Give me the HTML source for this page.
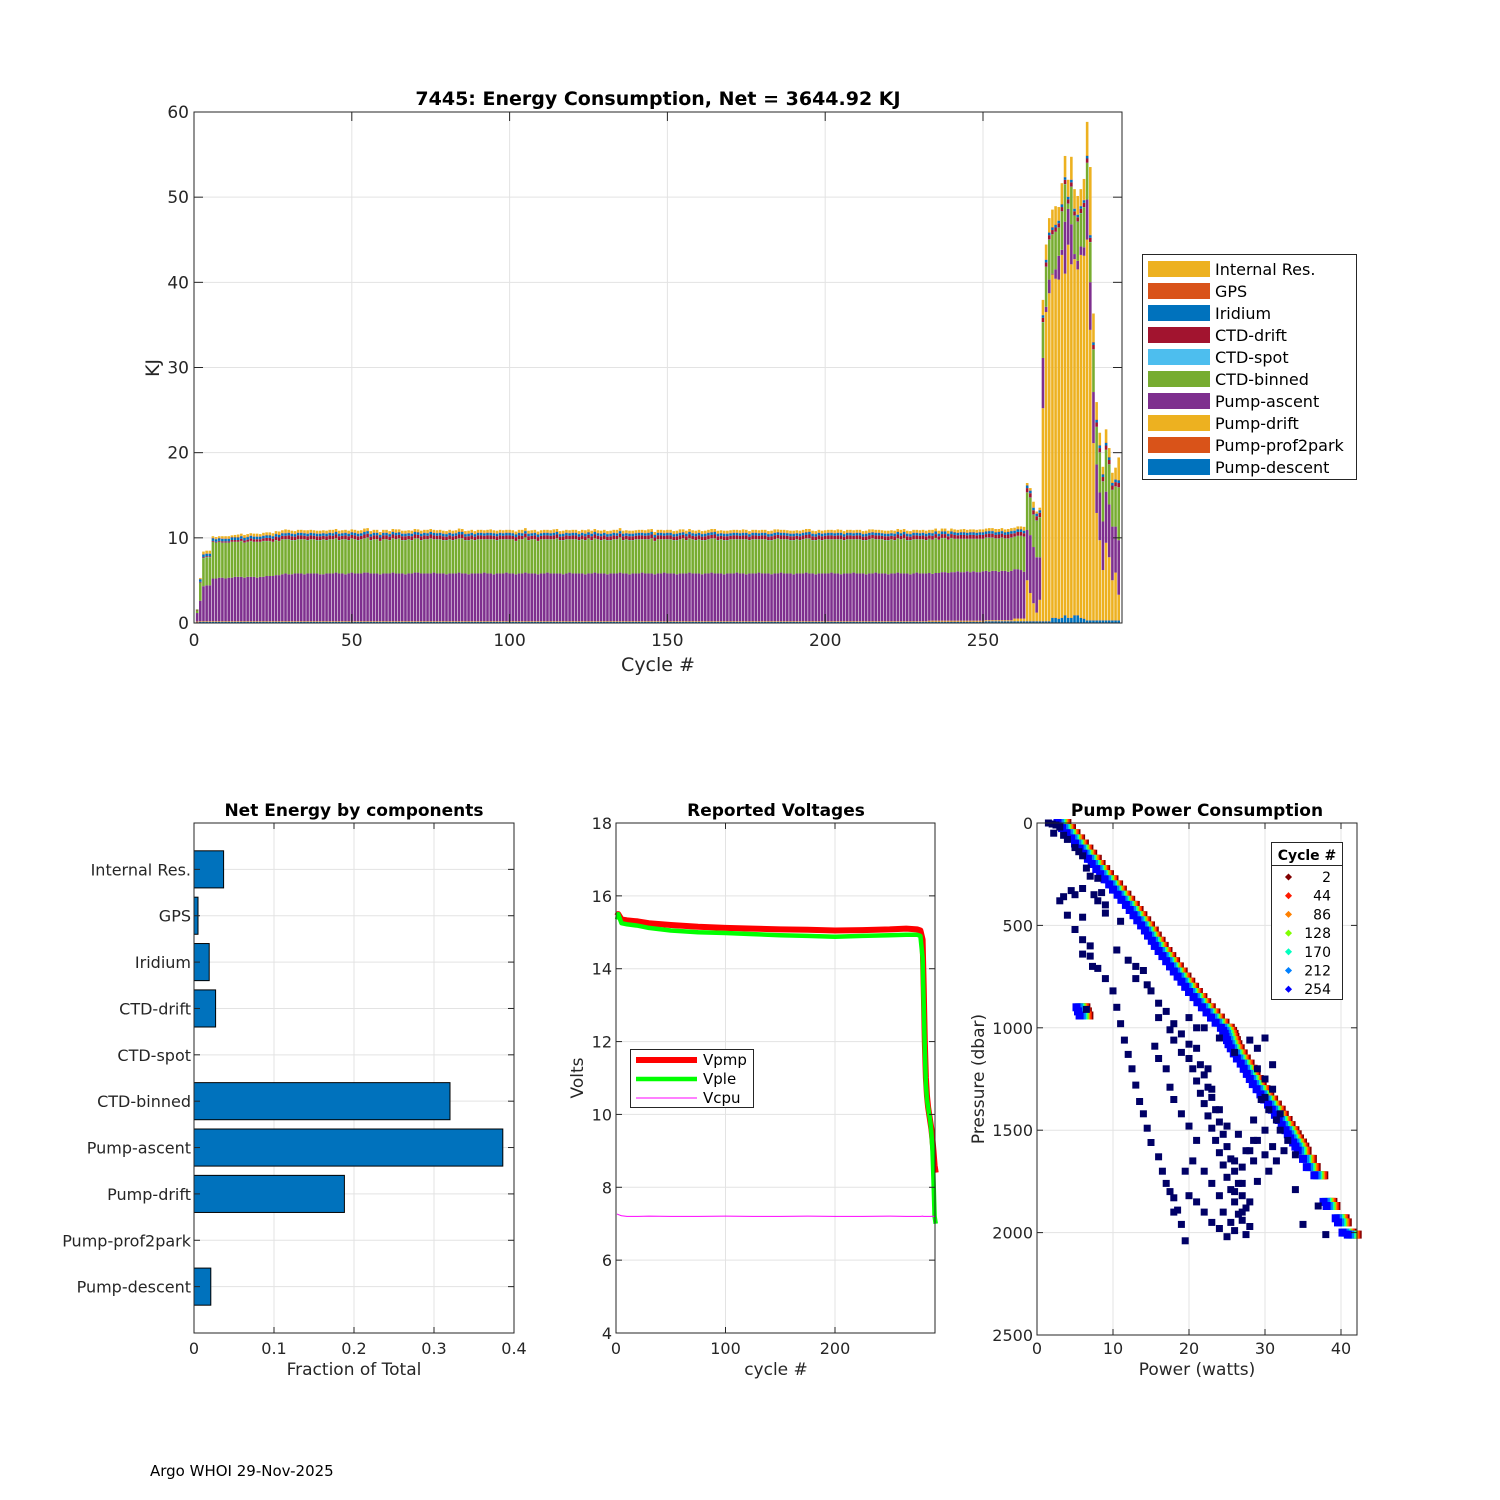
<!DOCTYPE html>
<html><head><meta charset="utf-8"><title>7445 Energy Consumption</title>
<style>
html,body{margin:0;padding:0;background:#fff;}
svg{display:block;font-family:"DejaVu Sans","Liberation Sans",sans-serif;}
</style></head>
<body>
<svg id="chart" width="1500" height="1500" viewBox="0 0 1500 1500" xmlns="http://www.w3.org/2000/svg">
<rect x="0" y="0" width="1500" height="1500" fill="#ffffff"/>
<text x="150" y="1476" font-size="15" fill="#000">Argo WHOI 29-Nov-2025</text>
</svg>
<script>
// ---------- top chart data (per-cycle KJ, cycles 1..293) ----------
const cycleCount = 293;
const pumpDescent = [0.1,0.15,0.15,0.15,0.15,0.15,0.15,0.15,0.15,0.15,
0.15,0.15,0.15,0.15,0.15,0.15,0.15,0.15,0.15,0.15,0.15,0.15,0.15,0.15,0.15,0.15,0.15,0.15,0.15,0.15,
0.15,0.15,0.15,0.15,0.15,0.15,0.15,0.15,0.15,0.15,0.15,0.15,0.15,0.15,0.15,0.15,0.15,0.15,0.15,0.15,
0.15,0.15,0.15,0.15,0.15,0.15,0.15,0.15,0.15,0.15,0.15,0.15,0.15,0.15,0.15,0.15,0.15,0.15,0.15,0.15,
0.15,0.15,0.15,0.15,0.15,0.15,0.15,0.15,0.15,0.15,0.15,0.15,0.15,0.15,0.15,0.15,0.15,0.15,0.15,0.15,
0.15,0.15,0.15,0.15,0.15,0.15,0.15,0.15,0.15,0.15,0.15,0.15,0.15,0.15,0.15,0.15,0.15,0.15,0.15,0.15,
0.15,0.15,0.15,0.15,0.15,0.15,0.15,0.15,0.15,0.15,0.15,0.15,0.15,0.15,0.15,0.15,0.15,0.15,0.15,0.15,
0.15,0.15,0.15,0.15,0.15,0.15,0.15,0.15,0.15,0.15,0.15,0.15,0.15,0.15,0.15,0.15,0.15,0.15,0.15,0.15,
0.15,0.15,0.15,0.15,0.15,0.15,0.15,0.15,0.15,0.15,0.15,0.15,0.15,0.15,0.15,0.15,0.15,0.15,0.15,0.15,
0.15,0.15,0.15,0.15,0.15,0.15,0.15,0.15,0.15,0.15,0.15,0.15,0.15,0.15,0.15,0.15,0.15,0.15,0.15,0.15,
0.15,0.15,0.15,0.15,0.15,0.15,0.15,0.15,0.15,0.15,0.15,0.15,0.15,0.15,0.15,0.15,0.15,0.15,0.15,0.15,
0.15,0.15,0.15,0.15,0.15,0.15,0.15,0.15,0.15,0.15,0.15,0.15,0.15,0.15,0.15,0.15,0.15,0.15,0.15,0.15,
0.15,0.15,0.15,0.15,0.15,0.15,0.15,0.15,0.15,0.15,0.15,0.15,0.15,0.15,0.15,0.15,0.15,0.15,0.15,0.15,
0.2,0.2,0.2,0.2,0.2,0.2,0.2,0.2,0.2,0.2,0.2,0.2,0.2,
0.2,0.2,0.2,0.2,0.2,0.2,0.2,0.2,0.6,0.6,0.5,0.6,0.9,0.6,0.6,0.9,0.9,0.6,0.5,
0.3,0.3,0.3,0.3,0.3,0.3,0.3,0.3,0.3,0.3,0.3];
const pumpProf2park = [0.02,0.02,0.02,0.02,0.02,0.02,0.02,0.02,0.02,0.02,
0.02,0.02,0.02,0.02,0.02,0.02,0.02,0.02,0.02,0.02,0.02,0.02,0.02,0.02,0.02,0.02,0.02,0.02,0.02,0.02,
0.02,0.02,0.02,0.02,0.02,0.02,0.02,0.02,0.02,0.02,0.02,0.02,0.02,0.02,0.02,0.02,0.02,0.02,0.02,0.02,
0.02,0.02,0.02,0.02,0.02,0.02,0.02,0.02,0.02,0.02,0.02,0.02,0.02,0.02,0.02,0.02,0.02,0.02,0.02,0.02,
0.02,0.02,0.02,0.02,0.02,0.02,0.02,0.02,0.02,0.02,0.02,0.02,0.02,0.02,0.02,0.02,0.02,0.02,0.02,0.02,
0.02,0.02,0.02,0.02,0.02,0.02,0.02,0.02,0.02,0.02,0.02,0.02,0.02,0.02,0.02,0.02,0.02,0.02,0.02,0.02,
0.02,0.02,0.02,0.02,0.02,0.02,0.02,0.02,0.02,0.02,0.02,0.02,0.02,0.02,0.02,0.02,0.02,0.02,0.02,0.02,
0.02,0.02,0.02,0.02,0.02,0.02,0.02,0.02,0.02,0.02,0.02,0.02,0.02,0.02,0.02,0.02,0.02,0.02,0.02,0.02,
0.02,0.02,0.02,0.02,0.02,0.02,0.02,0.02,0.02,0.02,0.02,0.02,0.02,0.02,0.02,0.02,0.02,0.02,0.02,0.02,
0.02,0.02,0.02,0.02,0.02,0.02,0.02,0.02,0.02,0.02,0.02,0.02,0.02,0.02,0.02,0.02,0.02,0.02,0.02,0.02,
0.02,0.02,0.02,0.02,0.02,0.02,0.02,0.02,0.02,0.02,0.02,0.02,0.02,0.02,0.02,0.02,0.02,0.02,0.02,0.02,
0.02,0.02,0.02,0.02,0.02,0.02,0.02,0.02,0.02,0.02,0.02,0.02,0.02,0.02,0.02,0.02,0.02,0.02,0.02,0.02,
0.02,0.02,0.02,0.02,0.02,0.02,0.02,0.02,0.02,0.02,0.02,0.02,0.02,0.02,0.02,0.02,0.02,0.02,0.02,0.02,
0.02,0.02,0.02,0.02,0.02,0.02,0.02,0.02,0.02,0.02,0.02,0.02,0.02,
0.02,0.02,0.02,0.02,0.02,0.02,0.02,0.02,0.02,0.02,0.02,0.02,0.02,0.02,0.02,0.02,0.02,0.02,0.02,0.02,
0.02,0.02,0.02,0.02,0.02,0.02,0.02,0.02,0.02,0.02];
const pumpDrift = [0.05,0.05,0.05,0.05,0.05,0.05,0.05,0.05,0.05,0.05,
0.05,0.05,0.05,0.05,0.05,0.05,0.05,0.05,0.05,0.05,0.05,0.05,0.05,0.05,0.05,0.05,0.05,0.05,0.05,0.05,
0.05,0.05,0.05,0.05,0.05,0.05,0.05,0.05,0.05,0.05,0.05,0.05,0.05,0.05,0.05,0.05,0.05,0.05,0.05,0.05,
0.05,0.05,0.05,0.05,0.05,0.05,0.05,0.05,0.05,0.05,0.05,0.05,0.05,0.05,0.05,0.05,0.05,0.05,0.05,0.05,
0.05,0.05,0.05,0.05,0.05,0.05,0.05,0.05,0.05,0.05,0.05,0.05,0.05,0.05,0.05,0.05,0.05,0.05,0.05,0.05,
0.05,0.05,0.05,0.05,0.05,0.05,0.05,0.05,0.05,0.05,0.05,0.05,0.05,0.05,0.05,0.05,0.05,0.05,0.05,0.05,
0.05,0.05,0.05,0.05,0.05,0.05,0.05,0.05,0.05,0.05,0.05,0.05,0.05,0.05,0.05,0.05,0.05,0.05,0.05,0.05,
0.05,0.05,0.05,0.05,0.05,0.05,0.05,0.05,0.05,0.05,0.05,0.05,0.05,0.05,0.05,0.05,0.05,0.05,0.05,0.05,
0.05,0.05,0.05,0.05,0.05,0.05,0.05,0.05,0.05,0.05,0.05,0.05,0.05,0.05,0.05,0.05,0.05,0.05,0.05,0.05,
0.05,0.05,0.05,0.05,0.05,0.05,0.05,0.05,0.05,0.05,0.05,0.05,0.05,0.05,0.05,0.05,0.05,0.05,0.05,0.05,
0.05,0.05,0.05,0.05,0.05,0.05,0.05,0.05,0.05,0.05,0.05,0.05,0.05,0.05,0.05,0.05,0.05,0.05,0.05,0.05,
0.05,0.05,0.05,0.05,0.05,0.05,0.05,0.05,0.05,0.05,0.05,0.05,0.05,0.05,0.05,0.05,0.05,0.05,0.05,0.05,
0.05,0.05,0.1,0.1,0.1,0.1,0.1,0.1,0.1,0.1,0.1,0.1,0.1,0.1,0.1,0.1,0.1,0.1,0.1,0.1,
0.1,0.1,0.1,0.1,0.1,0.1,0.1,0.1,0.1,0.3,0.3,0.3,0.3,
4.8,3.3,2.1,1.0,2.5,25.0,36.3,38.5,40.3,39.8,39.8,42.6,40.1,43.8,41.5,41.8,40.6,42.6,42.6,44.7,
34.1,20.8,12.6,9.4,5.9,9.1,7.4,4.7,5.6,3.0];
const pumpAscent = [1.0,2.4,4.1,4.2,4.2,5.0,5.0,5.1,5.1,5.0,
5.1,5.1,5.2,5.2,5.2,5.1,5.2,5.2,5.2,5.1,5.2,5.2,5.3,5.3,5.3,5.4,5.4,5.5,5.6,5.5,
5.5,5.6,5.6,5.6,5.5,5.6,5.6,5.6,5.6,5.5,5.5,5.6,5.6,5.6,5.7,5.6,5.6,5.5,5.6,5.7,
5.6,5.6,5.6,5.7,5.7,5.6,5.6,5.6,5.5,5.6,5.6,5.6,5.7,5.6,5.6,5.6,5.5,5.6,5.6,5.7,
5.7,5.6,5.6,5.6,5.6,5.7,5.6,5.6,5.6,5.5,5.6,5.6,5.6,5.7,5.6,5.6,5.5,5.6,5.6,5.6,
5.6,5.7,5.6,5.6,5.5,5.6,5.6,5.6,5.7,5.6,5.6,5.5,5.6,5.6,5.7,5.6,5.6,5.6,5.5,5.6,
5.6,5.7,5.6,5.6,5.6,5.6,5.5,5.6,5.7,5.6,5.6,5.6,5.6,5.5,5.6,5.6,5.7,5.6,5.6,5.6,
5.5,5.6,5.6,5.6,5.7,5.6,5.6,5.5,5.6,5.6,5.6,5.7,5.6,5.6,5.6,5.5,5.6,5.6,5.7,5.6,
5.6,5.6,5.5,5.6,5.6,5.6,5.7,5.6,5.6,5.6,5.5,5.6,5.6,5.7,5.6,5.6,5.6,5.5,5.6,5.6,
5.6,5.7,5.6,5.6,5.5,5.6,5.6,5.6,5.7,5.6,5.6,5.6,5.5,5.6,5.6,5.7,5.6,5.6,5.6,5.5,
5.6,5.6,5.6,5.7,5.6,5.6,5.5,5.6,5.6,5.6,5.6,5.7,5.6,5.6,5.5,5.6,5.6,5.6,5.7,5.6,
5.6,5.6,5.5,5.6,5.6,5.7,5.6,5.6,5.6,5.5,5.6,5.6,5.7,5.6,5.6,5.6,5.5,5.6,5.7,5.6,
5.6,5.6,5.6,5.5,5.6,5.6,5.7,5.7,5.6,5.7,5.7,5.8,5.7,5.7,5.8,5.7,5.8,5.7,5.7,5.8,
5.8,5.7,5.8,5.8,5.7,5.8,5.8,5.7,5.8,5.8,5.8,5.7,5.5,
5.9,6.8,6.6,6.5,5.0,5.9,0.6,1.6,0.1,1.1,2.8,0.6,6.1,4.2,4.7,0.6,1.0,1.0,1.0,4.7,
5.6,6.0,5.7,5.6,5.7,6.0,6.2,6.3,5.4,6.4];
const ctdBinned = [0.3,2.1,3.3,3.3,3.3,4.3,4.2,4.2,4.1,4.2,
4.1,4.2,4.1,4.1,4.2,4.1,4.1,4.2,4.1,4.2,4.1,4.2,4.1,4.1,4.0,4.1,4.0,4.1,4.0,4.1,
4.0,3.9,4.0,4.0,4.1,3.9,4.0,4.0,3.9,4.0,4.1,3.9,4.0,4.0,4.0,3.9,4.0,4.1,3.9,4.0,
4.0,3.9,4.0,4.0,4.1,3.9,4.0,4.0,3.9,4.0,4.0,3.9,4.0,4.0,4.1,3.9,4.0,4.0,3.9,4.0,
4.0,3.9,4.0,4.0,4.1,3.9,4.0,4.0,3.9,4.0,4.0,3.9,4.0,4.0,4.1,3.9,4.0,4.0,3.9,4.0,
4.0,3.9,4.0,4.0,4.1,3.9,4.0,4.0,3.9,4.0,4.0,3.9,4.0,4.0,4.1,3.9,4.0,4.0,3.9,4.0,
4.0,3.9,4.0,4.0,4.1,3.9,4.0,4.0,3.9,4.0,4.0,3.9,4.0,4.0,4.1,3.9,4.0,4.0,3.9,4.0,
4.0,3.9,4.0,4.0,4.1,3.9,4.0,4.0,3.9,4.0,4.0,3.9,4.0,4.0,4.1,3.9,4.0,4.0,3.9,4.0,
4.0,3.9,4.0,4.0,4.1,3.9,4.0,4.0,3.9,4.0,4.0,3.9,4.0,4.0,4.1,3.9,4.0,4.0,3.9,4.0,
4.0,3.9,4.0,4.0,4.1,3.9,4.0,4.0,3.9,4.0,4.0,3.9,4.0,4.0,4.1,3.9,4.0,4.0,3.9,4.0,
4.0,3.9,4.0,4.0,4.1,3.9,4.0,4.0,3.9,4.0,4.0,3.9,4.0,4.0,4.1,3.9,4.0,4.0,3.9,4.0,
4.0,3.9,4.0,4.0,4.1,3.9,4.0,4.0,3.9,4.0,4.0,3.9,4.0,4.0,4.1,3.9,4.0,4.0,3.9,4.0,
4.0,3.9,4.0,4.0,4.1,3.9,4.0,4.0,3.9,4.0,3.9,3.8,3.9,3.9,3.8,3.9,3.8,3.9,3.9,3.8,
3.9,4.0,3.9,3.8,3.9,3.9,3.8,3.9,3.9,3.8,3.9,4.0,4.1,
4.4,4.4,3.8,4.3,4.7,4.2,4.7,4.7,4.6,4.4,3.3,4.5,4.4,0.6,4.4,4.5,4.6,3.9,4.7,4.3,
4.7,5.0,4.4,4.7,4.7,4.9,4.7,4.3,4.7,6.2];
const ctdSpot = [0.0,0.02,0.02,0.02,0.02,0.02,0.02,0.02,0.02,0.02,
0.02,0.02,0.02,0.02,0.02,0.02,0.02,0.02,0.02,0.02,0.02,0.02,0.02,0.02,0.02,0.02,0.02,0.02,0.02,0.02,
0.02,0.02,0.02,0.02,0.02,0.02,0.02,0.02,0.02,0.02,0.02,0.02,0.02,0.02,0.02,0.02,0.02,0.02,0.02,0.02,
0.02,0.02,0.02,0.02,0.02,0.02,0.02,0.02,0.02,0.02,0.02,0.02,0.02,0.02,0.02,0.02,0.02,0.02,0.02,0.02,
0.02,0.02,0.02,0.02,0.02,0.02,0.02,0.02,0.02,0.02,0.02,0.02,0.02,0.02,0.02,0.02,0.02,0.02,0.02,0.02,
0.02,0.02,0.02,0.02,0.02,0.02,0.02,0.02,0.02,0.02,0.02,0.02,0.02,0.02,0.02,0.02,0.02,0.02,0.02,0.02,
0.02,0.02,0.02,0.02,0.02,0.02,0.02,0.02,0.02,0.02,0.02,0.02,0.02,0.02,0.02,0.02,0.02,0.02,0.02,0.02,
0.02,0.02,0.02,0.02,0.02,0.02,0.02,0.02,0.02,0.02,0.02,0.02,0.02,0.02,0.02,0.02,0.02,0.02,0.02,0.02,
0.02,0.02,0.02,0.02,0.02,0.02,0.02,0.02,0.02,0.02,0.02,0.02,0.02,0.02,0.02,0.02,0.02,0.02,0.02,0.02,
0.02,0.02,0.02,0.02,0.02,0.02,0.02,0.02,0.02,0.02,0.02,0.02,0.02,0.02,0.02,0.02,0.02,0.02,0.02,0.02,
0.02,0.02,0.02,0.02,0.02,0.02,0.02,0.02,0.02,0.02,0.02,0.02,0.02,0.02,0.02,0.02,0.02,0.02,0.02,0.02,
0.02,0.02,0.02,0.02,0.02,0.02,0.02,0.02,0.02,0.02,0.02,0.02,0.02,0.02,0.02,0.02,0.02,0.02,0.02,0.02,
0.02,0.02,0.02,0.02,0.02,0.02,0.02,0.02,0.02,0.02,0.02,0.02,0.02,0.02,0.02,0.02,0.02,0.02,0.02,0.02,
0.02,0.02,0.02,0.02,0.02,0.02,0.02,0.02,0.02,0.02,0.02,0.02,0.02,
0.02,0.02,0.02,0.02,0.02,0.02,0.02,0.02,0.02,0.02,0.02,0.02,0.02,0.02,0.02,0.02,0.02,0.02,0.02,0.02,
0.02,0.02,0.02,0.02,0.02,0.02,0.02,0.02,0.02,0.02];
const ctdDrift = [0.05,0.1,0.1,0.1,0.1,0.1,0.1,0.1,0.15,0.15,
0.15,0.2,0.2,0.2,0.25,0.25,0.25,0.3,0.3,0.3,0.3,0.3,0.35,0.35,0.35,0.4,0.4,0.4,0.4,0.45,
0.45,0.4,0.45,0.45,0.4,0.45,0.45,0.4,0.45,0.45,0.4,0.45,0.45,0.4,0.45,0.45,0.4,0.45,0.45,0.4,
0.45,0.45,0.4,0.45,0.45,0.4,0.45,0.45,0.4,0.45,0.45,0.4,0.45,0.45,0.4,0.45,0.45,0.4,0.45,0.45,
0.4,0.45,0.45,0.4,0.45,0.45,0.4,0.45,0.45,0.4,0.45,0.45,0.4,0.45,0.45,0.4,0.45,0.45,0.4,0.45,
0.45,0.4,0.45,0.45,0.4,0.45,0.45,0.4,0.45,0.45,0.4,0.45,0.45,0.4,0.45,0.45,0.4,0.45,0.45,0.4,
0.45,0.45,0.4,0.45,0.45,0.4,0.45,0.45,0.4,0.45,0.45,0.4,0.45,0.45,0.4,0.45,0.45,0.4,0.45,0.45,
0.4,0.45,0.45,0.4,0.45,0.45,0.4,0.45,0.45,0.4,0.45,0.45,0.4,0.45,0.45,0.4,0.45,0.45,0.4,0.45,
0.45,0.4,0.45,0.45,0.4,0.45,0.45,0.4,0.45,0.45,0.4,0.45,0.45,0.4,0.45,0.45,0.4,0.45,0.45,0.4,
0.45,0.45,0.4,0.45,0.45,0.4,0.45,0.45,0.4,0.45,0.45,0.4,0.45,0.45,0.4,0.45,0.45,0.4,0.45,0.45,
0.4,0.45,0.45,0.4,0.45,0.45,0.4,0.45,0.45,0.4,0.45,0.45,0.4,0.45,0.45,0.4,0.45,0.45,0.4,0.45,
0.45,0.4,0.45,0.45,0.4,0.45,0.45,0.4,0.45,0.45,0.4,0.45,0.45,0.4,0.45,0.45,0.4,0.45,0.45,0.4,
0.45,0.45,0.4,0.45,0.45,0.4,0.45,0.45,0.4,0.45,0.45,0.4,0.45,0.45,0.4,0.45,0.45,0.4,0.45,0.45,
0.4,0.45,0.45,0.4,0.45,0.45,0.4,0.45,0.45,0.4,0.45,0.45,0.4,
0.5,0.5,0.5,0.5,0.5,0.5,0.5,0.5,0.5,0.5,0.5,0.5,0.5,0.5,0.5,0.5,0.5,0.5,0.5,0.5,
0.5,0.5,0.5,0.5,0.5,0.5,0.5,0.5,0.5,0.5];
const iridium = [0.05,0.3,0.3,0.3,0.3,0.3,0.3,0.3,0.3,0.3,
0.3,0.3,0.3,0.3,0.3,0.3,0.3,0.3,0.3,0.3,0.3,0.3,0.3,0.3,0.3,0.3,0.3,0.3,0.3,0.3,
0.3,0.3,0.3,0.3,0.3,0.3,0.3,0.3,0.3,0.3,0.3,0.3,0.3,0.3,0.3,0.3,0.3,0.3,0.3,0.3,
0.3,0.3,0.3,0.3,0.3,0.3,0.3,0.3,0.3,0.3,0.3,0.3,0.3,0.3,0.3,0.3,0.3,0.3,0.3,0.3,
0.3,0.3,0.3,0.3,0.3,0.3,0.3,0.3,0.3,0.3,0.3,0.3,0.3,0.3,0.3,0.3,0.3,0.3,0.3,0.3,
0.3,0.3,0.3,0.3,0.3,0.3,0.3,0.3,0.3,0.3,0.3,0.3,0.3,0.3,0.3,0.3,0.3,0.3,0.3,0.3,
0.3,0.3,0.3,0.3,0.3,0.3,0.3,0.3,0.3,0.3,0.3,0.3,0.3,0.3,0.3,0.3,0.3,0.3,0.3,0.3,
0.3,0.3,0.3,0.3,0.3,0.3,0.3,0.3,0.3,0.3,0.3,0.3,0.3,0.3,0.3,0.3,0.3,0.3,0.3,0.3,
0.3,0.3,0.3,0.3,0.3,0.3,0.3,0.3,0.3,0.3,0.3,0.3,0.3,0.3,0.3,0.3,0.3,0.3,0.3,0.3,
0.3,0.3,0.3,0.3,0.3,0.3,0.3,0.3,0.3,0.3,0.3,0.3,0.3,0.3,0.3,0.3,0.3,0.3,0.3,0.3,
0.3,0.3,0.3,0.3,0.3,0.3,0.3,0.3,0.3,0.3,0.3,0.3,0.3,0.3,0.3,0.3,0.3,0.3,0.3,0.3,
0.3,0.3,0.3,0.3,0.3,0.3,0.3,0.3,0.3,0.3,0.3,0.3,0.3,0.3,0.3,0.3,0.3,0.3,0.3,0.3,
0.3,0.3,0.3,0.3,0.3,0.3,0.3,0.3,0.3,0.3,0.3,0.3,0.3,0.3,0.3,0.3,0.3,0.3,0.3,0.3,
0.3,0.3,0.3,0.3,0.3,0.3,0.3,0.3,0.3,0.3,0.3,0.3,0.3,
0.3,0.3,0.3,0.3,0.3,0.3,0.3,0.3,0.3,0.3,0.3,0.3,0.3,0.3,0.3,0.3,0.3,0.3,0.3,0.3,
0.3,0.3,0.3,0.3,0.3,0.3,0.3,0.3,0.3,0.3];
const gps = [0.0,0.05,0.05,0.05,0.05,0.05,0.05,0.05,0.05,0.05,
0.05,0.05,0.05,0.05,0.05,0.05,0.05,0.05,0.05,0.05,0.05,0.05,0.05,0.05,0.05,0.05,0.05,0.05,0.05,0.05,
0.05,0.05,0.05,0.05,0.05,0.05,0.05,0.05,0.05,0.05,0.05,0.05,0.05,0.05,0.05,0.05,0.05,0.05,0.05,0.05,
0.05,0.05,0.05,0.05,0.05,0.05,0.05,0.05,0.05,0.05,0.05,0.05,0.05,0.05,0.05,0.05,0.05,0.05,0.05,0.05,
0.05,0.05,0.05,0.05,0.05,0.05,0.05,0.05,0.05,0.05,0.05,0.05,0.05,0.05,0.05,0.05,0.05,0.05,0.05,0.05,
0.05,0.05,0.05,0.05,0.05,0.05,0.05,0.05,0.05,0.05,0.05,0.05,0.05,0.05,0.05,0.05,0.05,0.05,0.05,0.05,
0.05,0.05,0.05,0.05,0.05,0.05,0.05,0.05,0.05,0.05,0.05,0.05,0.05,0.05,0.05,0.05,0.05,0.05,0.05,0.05,
0.05,0.05,0.05,0.05,0.05,0.05,0.05,0.05,0.05,0.05,0.05,0.05,0.05,0.05,0.05,0.05,0.05,0.05,0.05,0.05,
0.05,0.05,0.05,0.05,0.05,0.05,0.05,0.05,0.05,0.05,0.05,0.05,0.05,0.05,0.05,0.05,0.05,0.05,0.05,0.05,
0.05,0.05,0.05,0.05,0.05,0.05,0.05,0.05,0.05,0.05,0.05,0.05,0.05,0.05,0.05,0.05,0.05,0.05,0.05,0.05,
0.05,0.05,0.05,0.05,0.05,0.05,0.05,0.05,0.05,0.05,0.05,0.05,0.05,0.05,0.05,0.05,0.05,0.05,0.05,0.05,
0.05,0.05,0.05,0.05,0.05,0.05,0.05,0.05,0.05,0.05,0.05,0.05,0.05,0.05,0.05,0.05,0.05,0.05,0.05,0.05,
0.05,0.05,0.05,0.05,0.05,0.05,0.05,0.05,0.05,0.05,0.05,0.05,0.05,0.05,0.05,0.05,0.05,0.05,0.05,0.05,
0.05,0.05,0.05,0.05,0.05,0.05,0.05,0.05,0.05,0.05,0.05,0.05,0.05,
0.05,0.05,0.05,0.05,0.05,0.05,0.05,0.05,0.05,0.05,0.05,0.05,0.05,0.05,0.05,0.05,0.05,0.05,0.05,0.05,
0.05,0.05,0.05,0.05,0.05,0.05,0.05,0.05,0.05,0.05];
const internalRes = [0.05,0.1,0.3,0.3,0.3,0.2,0.2,0.2,0.25,0.25,
0.25,0.2,0.25,0.3,0.25,0.3,0.3,0.25,0.3,0.3,0.25,0.3,0.3,0.3,0.3,0.3,0.35,0.3,0.4,0.3,
0.3,0.3,0.3,0.3,0.3,0.35,0.3,0.3,0.3,0.3,0.3,0.3,0.3,0.35,0.3,0.3,0.3,0.3,0.3,0.3,
0.3,0.3,0.3,0.35,0.3,0.3,0.3,0.3,0.3,0.3,0.3,0.3,0.3,0.35,0.3,0.3,0.3,0.3,0.3,0.3,
0.3,0.3,0.3,0.35,0.3,0.3,0.3,0.3,0.3,0.3,0.3,0.3,0.3,0.35,0.3,0.3,0.3,0.3,0.3,0.3,
0.3,0.3,0.3,0.35,0.3,0.3,0.3,0.3,0.3,0.3,0.3,0.3,0.3,0.35,0.3,0.3,0.3,0.3,0.3,0.3,
0.3,0.3,0.3,0.35,0.3,0.3,0.3,0.3,0.3,0.3,0.3,0.3,0.3,0.35,0.3,0.3,0.3,0.3,0.3,0.3,
0.3,0.3,0.3,0.35,0.3,0.3,0.3,0.3,0.3,0.3,0.3,0.3,0.3,0.35,0.3,0.3,0.3,0.3,0.3,0.3,
0.3,0.3,0.3,0.35,0.3,0.3,0.3,0.3,0.3,0.3,0.3,0.3,0.3,0.35,0.3,0.3,0.3,0.3,0.3,0.3,
0.3,0.3,0.3,0.35,0.3,0.3,0.3,0.3,0.3,0.3,0.3,0.3,0.3,0.35,0.3,0.3,0.3,0.3,0.3,0.3,
0.3,0.3,0.3,0.35,0.3,0.3,0.3,0.3,0.3,0.3,0.3,0.3,0.3,0.35,0.3,0.3,0.3,0.3,0.3,0.3,
0.3,0.3,0.3,0.35,0.3,0.3,0.3,0.3,0.3,0.3,0.3,0.3,0.3,0.35,0.3,0.3,0.3,0.3,0.3,0.3,
0.3,0.3,0.3,0.35,0.3,0.3,0.3,0.3,0.3,0.3,0.3,0.3,0.3,0.35,0.3,0.3,0.3,0.3,0.3,0.3,
0.3,0.3,0.3,0.35,0.3,0.3,0.3,0.3,0.3,0.3,0.3,0.3,0.4,
0.25,0.25,0.65,0.2,0.25,1.75,1.75,1.65,2.05,2.15,1.55,2.45,2.45,1.95,2.65,2.25,2.15,1.95,2.45,3.95,
7.95,3.35,2.05,1.45,0.85,1.55,1.05,1.15,1.35,2.65];
const seriesNames = ["Pump-descent","Pump-prof2park","Pump-drift","Pump-ascent","CTD-binned","CTD-spot","CTD-drift","Iridium","GPS","Internal Res."];
const seriesColors = ["#0072BD","#D95319","#EDB120","#7E2F8E","#77AC30","#4DBEEE","#A2142F","#0072BD","#D95319","#EDB120"];
const topXTicks = [0,50,100,150,200,250];
const topYTicks = [0,10,20,30,40,50,60];
const netEnergyKJ = "3644.92";

// ---------- net energy by component (fraction of total) ----------
const compLabels = ["Internal Res.","GPS","Iridium","CTD-drift","CTD-spot","CTD-binned","Pump-ascent","Pump-drift","Pump-prof2park","Pump-descent"];
const compFractions = [0.037,0.005,0.019,0.027,0.0,0.32,0.386,0.188,0.0,0.021];
const fracTicks = [0,0.1,0.2,0.3,0.4];

// ---------- voltages ----------
const vCycles = [1,2,5,10,20,30,50,75,100,125,150,175,200,225,250,265,275,278,280,281,282,283,284,285,286,287,288,289,290,291,292];
const vPmp = [15.45,15.5,15.35,15.33,15.3,15.25,15.2,15.15,15.12,15.1,15.08,15.07,15.05,15.06,15.08,15.1,15.08,15.05,14.8,13.5,12.0,11.0,10.5,10.2,10.0,9.8,9.6,9.3,9.0,8.6,8.4];
const vPle = [15.35,15.5,15.25,15.22,15.18,15.12,15.05,15.0,14.98,14.95,14.92,14.9,14.88,14.9,14.92,14.93,14.93,14.9,14.3,13.0,11.8,10.8,10.4,10.2,10.0,9.8,9.5,9.0,8.2,7.2,7.0];
const vCpu = [7.27,7.25,7.22,7.2,7.2,7.21,7.2,7.2,7.21,7.2,7.2,7.21,7.2,7.2,7.21,7.2,7.2,7.2,7.21,7.2,7.2,7.2,7.2,7.2,7.2,7.2,7.2,7.21,7.2,7.2,7.2];
const voltXTicks = [0,100,200];
const voltYTicks = [4,6,8,10,12,14,16,18];

// ---------- pump power scatter ----------
const mainPres = [0,25,50,75,100,125,150,175,200,225,250,275,300,325,350,375,400,425,450,475,500,525,550,575,600,625,650,675,700,725,750,775,800,825,850,875,900,925,950,975,1000,1015,1030,1045,1060,1080,1100,1125,1150,1175,1200,1225,1250,1275,1300,1325,1350,1375,1400,1425,1450,1475,1500,1520,1540,1560,1580,1600,1640,1680,1720,1850,1870,1930,1950,2000,2010,900,920,940];
const mainPow = [4,4.6,5.2,5.8,6.3,6.9,7.4,8.0,8.5,9.1,9.6,10.2,10.8,11.3,11.9,12.4,13,13.5,14,14.5,15,15.5,15.9,16.4,16.8,17.3,17.8,18.3,18.8,19.3,19.8,20.3,20.8,21.3,21.9,22.4,23,23.6,24.2,24.8,25.5,25.8,26,26.1,26.3,26.5,26.8,27.2,27.6,28.1,28.5,28.9,29.3,29.7,30.2,30.7,31.2,31.7,32.2,32.6,33.1,33.5,34,34.3,34.6,35,35.3,35.6,36.3,36.8,37.8,39,39.4,40.6,40.9,41.5,42.2,6.5,6.7,6.9];
const legendCycles = [2,44,86,128,170,212,254];
const cyclePowerDrop = [0,0.2,0.4,0.6,0.8,1.0,1.3];
const cycleColors = ["#800000","#ff1a00","#ff8000","#80ff00","#00ffbf","#0080ff","#0000ff"];
const navyPow = [1.5,2,2.5,3,2.2,3.5,4,5,5.5,6,6.5,7,8,6,7.5,4.5,5,8,9,8.5,
3,4,6,5,6,7,7,8,9,10,10.5,11,11.5,12,12.5,13,13.5,14,14.5,15,16,16.5,17,18,18.5,19,19.5,18,17.5,
6,7.3,6.5,3.5,
9,11,10.5,12,13,14,13,14.5,15,16,17,16,18,17.5,19,18,20,19,21,20,21.5,20.5,22,21,22.5,21.5,23,22,23.5,22.5,24,23,24.5,23.5,25,24,25.5,24.5,26,25,26.5,25.5,27,26,27.5,26.5,27,28,26,27.5,25,24,23,22,21,20,19.5,20.5,21,20,19,18,17.5,17,16,15.5,22,23,24,24.5,25.5,27,28,27,26,27.5,28.5,26.5,25,24,23,22.5,21,20,22,24,
29,30,31,29.5,30.5,31.5,32,30,29,28,30,31,32.5,33,28.5,27,30.5,26,29,31.5,34,32,28.5,30,31,29,28,26,30,
34,35,37,38];
const navyPres = [0,5,10,20,50,60,80,120,140,160,220,260,270,320,350,330,350,380,400,340,
380,450,460,520,570,600,650,710,760,820,900,980,1060,1130,1200,1280,1360,1420,1490,1560,1630,1700,1760,1830,1890,1960,2040,1900,1800,
640,700,910,360,
440,480,620,670,700,720,760,790,820,880,920,950,980,1010,1030,1060,1080,1120,1100,1150,1180,1200,1230,1260,1290,1320,1340,1370,1400,1430,1460,1490,1520,1550,1580,1610,1640,1670,1700,1730,1760,1790,1820,1850,1880,1910,1940,1970,1990,2010,2020,1980,1950,1900,1850,1820,1700,1650,1550,1480,1420,1350,1290,1200,1150,1090,1700,1760,1820,1900,1950,1900,1850,1760,1650,1600,1550,1520,1480,1400,1300,1200,1000,950,1000,1050,
1200,1250,1300,1350,1400,1450,1500,1500,1550,1600,1620,1580,1600,1550,1650,1680,1700,1800,1750,1650,1620,1420,1450,1340,1180,1100,1060,1120,1050,
1790,1960,1870,2010];
const pressTicks = [0,500,1000,1500,2000,2500];
const powTicks = [0,10,20,30,40];

// ---------- helpers ----------
const NS = "http://www.w3.org/2000/svg";
const svg = document.getElementById('chart');
function mk(tag, attrs, parent){
  const e = document.createElementNS(NS, tag);
  for (const k in attrs) e.setAttribute(k, attrs[k]);
  (parent || svg).appendChild(e);
  return e;
}
function tx(str, x, y, size, anchor, parent, extra){
  const e = mk('text', Object.assign({x:x, y:y, 'font-size':size, 'text-anchor':anchor||'start', fill:'#262626'}, extra||{}), parent);
  e.textContent = str;
  return e;
}
const GRID = '#e3e3e3', AX = '#262626';

// ================= TOP CHART =================
const topG = mk('g', {});


const T = {l:194, r:1122, t:112, b:623};
const xT = c => T.l + c * (983 - 194) / 250;
const yT = v => T.b - v * (T.b - T.t) / 60;
topXTicks.forEach(v => {
  const g = mk('line', {x1:xT(v), x2:xT(v), y1:T.t, y2:T.b, stroke:GRID, 'stroke-width':1}, topG);
  
  
});
topYTicks.forEach(v => {
  const g = mk('line', {x1:T.l, x2:T.r, y1:yT(v), y2:yT(v), stroke:GRID, 'stroke-width':1}, topG);
  
  
});
const barsG = mk('g', {}, topG);


const seriesArrays = [pumpDescent,pumpProf2park,pumpDrift,pumpAscent,ctdBinned,ctdSpot,ctdDrift,iridium,gps,internalRes];
const bw = (xT(1) - xT(0)) * 0.82;
for (let i = 0; i < cycleCount; i++) {
  const c = i + 1;
  let acc = 0;
  for (let s = 0; s < seriesArrays.length; s++) {
    const v = seriesArrays[s][i] || 0;
    if (v <= 0) continue;
    const y1 = yT(acc + v), y0 = yT(acc);
    const r = mk('rect', {x:(xT(c) - bw/2).toFixed(2), y:y1.toFixed(2), width:bw.toFixed(2), height:Math.max(0.3, y0 - y1).toFixed(2), fill:seriesColors[s]}, barsG);
    
    
    acc += v;
  }
}
const topBox = mk('rect', {x:T.l, y:T.t, width:T.r-T.l, height:T.b-T.t, fill:'none', stroke:AX, 'stroke-width':1}, topG);


topXTicks.forEach(v => {
  const t1 = mk('line', {x1:xT(v), x2:xT(v), y1:T.b, y2:T.b-9, stroke:AX}, topG);
  
  
  const t2 = mk('line', {x1:xT(v), x2:xT(v), y1:T.t, y2:T.t+9, stroke:AX}, topG);
  
  
  const l = tx(String(v), xT(v), 646, 17, 'middle', topG);
  
  
});
topYTicks.forEach(v => {
  const t1 = mk('line', {x1:T.l, x2:T.l+9, y1:yT(v), y2:yT(v), stroke:AX}, topG);
  
  
  const t2 = mk('line', {x1:T.r, x2:T.r-9, y1:yT(v), y2:yT(v), stroke:AX}, topG);
  
  
  const l = tx(String(v), 189, yT(v)+6, 17, 'end', topG);
  
  
});
const topTitle = tx('7445: Energy Consumption,  Net = ' + netEnergyKJ + ' KJ', 658, 105, 19, 'middle', topG, {'font-weight':'bold', fill:'#000', 'xml:space':'preserve'});


const topXl = tx('Cycle #', 658, 671, 19, 'middle', topG);


const topYl = tx('KJ', 0, 0, 19, 'middle', topG, {transform:'translate(159,368) rotate(-90)'});


// legend
const legG = mk('g', {}, topG);


const legBox = mk('rect', {x:1142.5, y:254.5, width:214, height:225, fill:'#fff', stroke:AX}, legG);


for (let k = 0; k < 10; k++) {
  const s = 9 - k;
  const yy = 269 + k * 22;
  const sw = mk('rect', {x:1148, y:yy-8, width:62, height:16, fill:seriesColors[s]}, legG);
  
  
  const lt = tx(seriesNames[s], 1215, yy+6, 16, 'start', legG, {fill:'#000'});
  
  
}

// ================= NET ENERGY BY COMPONENTS =================
const bG = mk('g', {});


const B = {l:194, r:514, t:823, b:1333};
const xB = f => B.l + f * (B.r - B.l) / 0.4;
const yB = i => B.t + (i + 1) * (B.b - B.t) / 11;
fracTicks.forEach(v => {
  const g = mk('line', {x1:xB(v), x2:xB(v), y1:B.t, y2:B.b, stroke:GRID}, bG);
  
  
});
compLabels.forEach((lab, i) => {
  const g = mk('line', {x1:B.l, x2:B.r, y1:yB(i), y2:yB(i), stroke:GRID}, bG);
  
  
});
const bh = (B.b - B.t) / 11 * 0.8;
compLabels.forEach((lab, i) => {
  const f = compFractions[i];
  if (f > 0) {
    const r = mk('rect', {x:xB(0), y:yB(i)-bh/2, width:xB(f)-xB(0), height:bh, fill:'#0072BD', stroke:'#000', 'stroke-width':1}, bG);
    
    
  }
});
const bBox = mk('rect', {x:B.l, y:B.t, width:B.r-B.l, height:B.b-B.t, fill:'none', stroke:AX}, bG);


fracTicks.forEach(v => {
  const t1 = mk('line', {x1:xB(v), x2:xB(v), y1:B.b, y2:B.b-6, stroke:AX}, bG);
  
  
  const t2 = mk('line', {x1:xB(v), x2:xB(v), y1:B.t, y2:B.t+6, stroke:AX}, bG);
  
  
  const l = tx(String(v), xB(v), 1354, 16, 'middle', bG);
  
  
});
compLabels.forEach((lab, i) => {
  const t1 = mk('line', {x1:B.l, x2:B.l+6, y1:yB(i), y2:yB(i), stroke:AX}, bG);
  
  
  const t2 = mk('line', {x1:B.r, x2:B.r-6, y1:yB(i), y2:yB(i), stroke:AX}, bG);
  
  
  const l = tx(lab, 191, yB(i)+6, 16, 'end', bG);
  
  
});
const bTitle = tx('Net Energy by components', 354, 816, 17, 'middle', bG, {'font-weight':'bold', fill:'#000'});


const bXl = tx('Fraction of Total', 354, 1375, 17, 'middle', bG);



// ================= REPORTED VOLTAGES =================
const vG = mk('g', {});


const V = {l:616, r:935, t:823, b:1333};
const xV = c => V.l + c * (835 - 616) / 200;
const yV = v => V.b - (v - 4) * (V.b - V.t) / 14;
voltXTicks.forEach(v => {
  const g = mk('line', {x1:xV(v), x2:xV(v), y1:V.t, y2:V.b, stroke:GRID}, vG);
  
  
});
voltYTicks.forEach(v => {
  const g = mk('line', {x1:V.l, x2:V.r, y1:yV(v), y2:yV(v), stroke:GRID}, vG);
  
  
});
function linePts(xs, ys){ return xs.map((c, i) => xV(c).toFixed(1) + ',' + yV(ys[i]).toFixed(1)).join(' '); }
const lPmp = mk('polyline', {points:linePts(vCycles, vPmp), fill:'none', stroke:'#ff0000', 'stroke-width':6, 'stroke-linejoin':'round'}, vG);


const lPle = mk('polyline', {points:linePts(vCycles, vPle), fill:'none', stroke:'#00ff00', 'stroke-width':4.5, 'stroke-linejoin':'round'}, vG);


const lCpu = mk('polyline', {points:linePts(vCycles, vCpu), fill:'none', stroke:'#ff00ff', 'stroke-width':1}, vG);


const vBox = mk('rect', {x:V.l, y:V.t, width:V.r-V.l, height:V.b-V.t, fill:'none', stroke:AX}, vG);


voltXTicks.forEach(v => {
  const t1 = mk('line', {x1:xV(v), x2:xV(v), y1:V.b, y2:V.b-6, stroke:AX}, vG);
  
  
  const t2 = mk('line', {x1:xV(v), x2:xV(v), y1:V.t, y2:V.t+6, stroke:AX}, vG);
  
  
  const l = tx(String(v), xV(v), 1354, 16, 'middle', vG);
  
  
});
voltYTicks.forEach(v => {
  const t1 = mk('line', {x1:V.l, x2:V.l+6, y1:yV(v), y2:yV(v), stroke:AX}, vG);
  
  
  const t2 = mk('line', {x1:V.r, x2:V.r-6, y1:yV(v), y2:yV(v), stroke:AX}, vG);
  
  
  const l = tx(String(v), 612, yV(v)+6, 16, 'end', vG);
  
  
});
const vTitle = tx('Reported Voltages', 776, 816, 17, 'middle', vG, {'font-weight':'bold', fill:'#000'});


const vXl = tx('cycle #', 776, 1375, 17, 'middle', vG);


const vYl = tx('Volts', 0, 0, 17, 'middle', vG, {transform:'translate(583,1078) rotate(-90)'});


const vLeg = mk('g', {}, vG);


const vLegBox = mk('rect', {x:630.5, y:1049.5, width:123, height:58, fill:'#fff', stroke:AX}, vLeg);


const vLegNames = ['Vpmp','Vple','Vcpu'], vLegCols = ['#ff0000','#00ff00','#ff00ff'], vLegW = [6,4.5,1];
vLegNames.forEach((n, i) => {
  const yy = 1060 + i * 19;
  const ln = mk('line', {x1:636, x2:697, y1:yy, y2:yy, stroke:vLegCols[i], 'stroke-width':vLegW[i]}, vLeg);
  
  
  const lt = tx(n, 703, yy+5, 15, 'start', vLeg, {fill:'#000'});
  
  
});

// ================= PUMP POWER CONSUMPTION =================
const pG = mk('g', {});


const P = {l:1037, r:1357, t:823, b:1335};
const xP = w => P.l + w * (1341 - 1037) / 40;
const yP = p => P.t + p * (P.b - P.t) / 2500;
powTicks.forEach(v => {
  const g = mk('line', {x1:xP(v), x2:xP(v), y1:P.t, y2:P.b, stroke:GRID}, pG);
  
  
});
pressTicks.forEach(v => {
  const g = mk('line', {x1:P.l, x2:P.r, y1:yP(v), y2:yP(v), stroke:GRID}, pG);
  
  
});
const ptsG = mk('g', {}, pG);


legendCycles.forEach((cy, k) => {
  mainPres.forEach((p, i) => {
    const w = mainPow[i] - cyclePowerDrop[k];
    const d = mk('rect', {x:(xP(w)-4).toFixed(1), y:(yP(p)-4).toFixed(1), width:8, height:8, fill:cycleColors[k]}, ptsG);
    
    
  });
});
navyPow.forEach((w, i) => {
  const d = mk('rect', {x:(xP(w)-3.5).toFixed(1), y:(yP(navyPres[i])-3.5).toFixed(1), width:7, height:7, fill:'#000066'}, ptsG);
  
  
});
const pBox = mk('rect', {x:P.l, y:P.t, width:P.r-P.l, height:P.b-P.t, fill:'none', stroke:AX}, pG);


powTicks.forEach(v => {
  const t1 = mk('line', {x1:xP(v), x2:xP(v), y1:P.b, y2:P.b-6, stroke:AX}, pG);
  
  
  const t2 = mk('line', {x1:xP(v), x2:xP(v), y1:P.t, y2:P.t+6, stroke:AX}, pG);
  
  
  const l = tx(String(v), xP(v), 1354, 16, 'middle', pG);
  
  
});
pressTicks.forEach(v => {
  const t1 = mk('line', {x1:P.l, x2:P.l+6, y1:yP(v), y2:yP(v), stroke:AX}, pG);
  
  
  const t2 = mk('line', {x1:P.r, x2:P.r-6, y1:yP(v), y2:yP(v), stroke:AX}, pG);
  
  
  const l = tx(String(v), 1033, yP(v)+6, 16, 'end', pG);
  
  
});
const pTitle = tx('Pump Power Consumption', 1197, 816, 17, 'middle', pG, {'font-weight':'bold', fill:'#000'});


const pXl = tx('Power (watts)', 1197, 1375, 17, 'middle', pG);


const pYl = tx('Pressure (dbar)', 0, 0, 17, 'middle', pG, {transform:'translate(984,1079) rotate(-90)'});


const pLeg = mk('g', {}, pG);


const pLegBox = mk('rect', {x:1271.5, y:842.5, width:71, height:157, fill:'#fff', stroke:AX}, pLeg);


const pLegSep = mk('line', {x1:1271.5, x2:1342.5, y1:865.5, y2:865.5, stroke:AX}, pLeg);


const pLegTitle = tx('Cycle #', 1307, 860, 14, 'middle', pLeg, {'font-weight':'bold', fill:'#000'});


legendCycles.forEach((cy, k) => {
  const yy = 877 + k * 18.7;
  const m = mk('rect', {x:1286, y:yy-2.5, width:5, height:5, fill:cycleColors[k], transform:'rotate(45 1288.5 '+yy+')'}, pLeg);
  
  
  const lt = tx(String(cy), 1331, yy+5, 14, 'end', pLeg, {fill:'#000'});
  
  
});
</script>
</body></html>
